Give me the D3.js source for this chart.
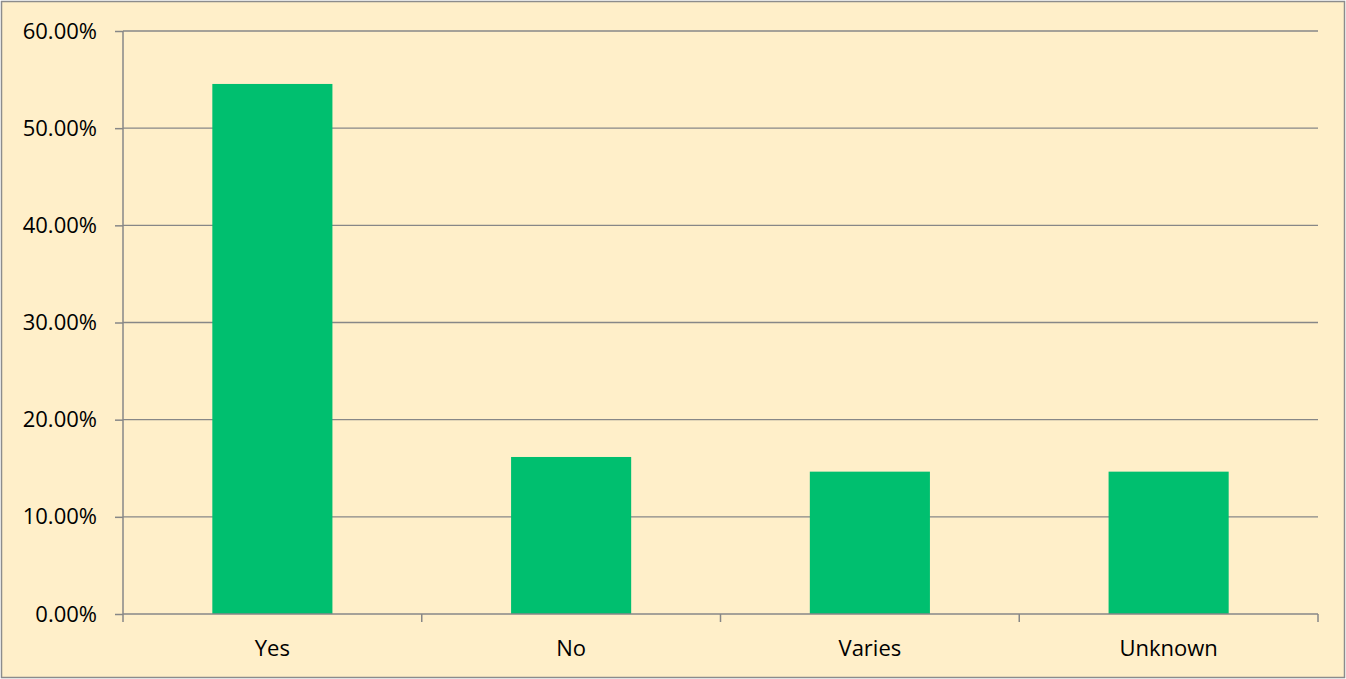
<!DOCTYPE html>
<html><head><meta charset="utf-8">
<script src="https://cdn.jsdelivr.net/npm/d3@7"></script>
<style>
html,body{margin:0;padding:0;background:#fff;}
svg{display:block;}
text{font-family:"Open Sans",sans-serif;fill:#000;}
</style></head>
<body>
<script>
const categories = ["Yes", "No", "Varies", "Unknown"];
const values = [54.55, 16.16, 14.65, 14.65];
const yTicks = [0, 10, 20, 30, 40, 50, 60];

const W = 1346, H = 679;
const m = {left:123, right:1318, top:31, bottom:614};
const FS = 22;
const svg = d3.select("body").append("svg").attr("width", W).attr("height", H);
svg.append("rect").attr("x",1.5).attr("y",1.5).attr("width",W-3).attr("height",H-3)
  .attr("fill","#FFEFC9").attr("stroke","#8c8c8c").attr("stroke-width",1.5);

const x = d3.scaleBand().domain(categories).range([m.left, m.right]).paddingInner(0.598).paddingOuter(0.299);
const xe = d3.scalePoint().domain(d3.range(categories.length+1)).range([m.left, m.right]);
const y = d3.scaleLinear().domain([0, 60]).range([m.bottom, m.top]);

// gridlines
svg.append("g").selectAll("line").data(yTicks.filter(d=>d>0)).join("line")
  .attr("x1", m.left).attr("x2", m.right).attr("y1", d=>y(d)).attr("y2", d=>y(d))
  .attr("stroke","#878787").attr("stroke-width",1.3);

// bars
svg.append("g").selectAll("rect").data(values).join("rect")
  .attr("x", (d,i)=>x(categories[i])).attr("width", x.bandwidth())
  .attr("y", d=>y(d)).attr("height", d=>y(0)-y(d)).attr("fill","#00BF6F");

// y axis
const yAxis = d3.axisLeft(y).tickValues(yTicks).tickSize(8).tickPadding(18).tickFormat(d=>d.toFixed(2)+"%");
const gy = svg.append("g").attr("transform",`translate(${m.left},0)`).call(yAxis);
gy.select(".domain").attr("stroke","#878787").attr("stroke-width",1.5).attr("d",`M-0,${m.top}V${m.bottom}`);
gy.selectAll(".tick line").attr("stroke","#878787").attr("stroke-width",1.5);
gy.selectAll(".tick text").attr("font-size",FS).attr("font-family","'Open Sans',sans-serif").attr("fill","#000");

// x axis
const gx = svg.append("g").attr("transform",`translate(0,${m.bottom})`);
gx.append("line").attr("x1",m.left).attr("x2",m.right).attr("stroke","#878787").attr("stroke-width",1.5);
gx.selectAll("line.t").data(xe.domain()).join("line").attr("class","t")
  .attr("x1",d=>xe(d)).attr("x2",d=>xe(d)).attr("y1",0).attr("y2",8)
  .attr("stroke","#878787").attr("stroke-width",1.5);
const xAxis = d3.axisBottom(x).tickSize(0).tickPadding(26);
const gx2 = svg.append("g").attr("transform",`translate(0,${m.bottom})`).call(xAxis);
gx2.select(".domain").remove();
gx2.selectAll(".tick text").attr("font-size",FS).attr("font-family","'Open Sans',sans-serif").attr("fill","#000");
</script>
</body></html>
